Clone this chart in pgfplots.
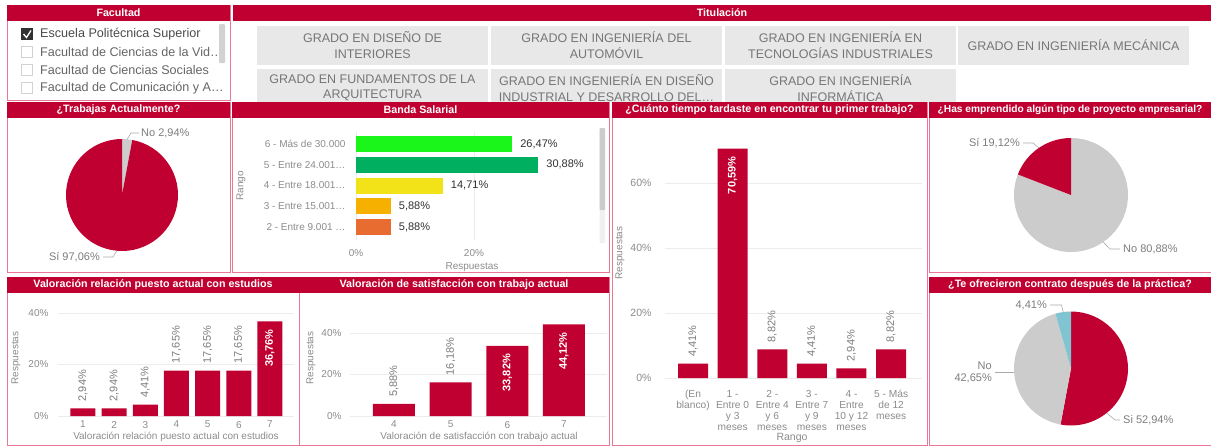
\documentclass[border=0pt]{standalone}
\usepackage{fontspec}
\setmainfont{Liberation Sans}
\usepackage{pgfplots}
\pgfplotsset{compat=1.18}
\definecolor{brand}{RGB}{192,0,48}
\definecolor{pborder}{RGB}{232,120,150}
\definecolor{btn}{RGB}{232,232,232}
\definecolor{btntext}{RGB}{118,118,118}
\definecolor{ltext}{RGB}{125,125,125}
\definecolor{tick}{RGB}{140,140,140}
\definecolor{gridc}{RGB}{236,236,236}
\definecolor{piegray}{RGB}{204,204,204}
\definecolor{pieteal}{RGB}{128,196,210}
\definecolor{dtext}{RGB}{50,50,50}
\definecolor{lead}{RGB}{170,170,170}
\definecolor{bgreen}{RGB}{26,245,26}
\definecolor{dgreen}{RGB}{0,176,96}
\definecolor{byellow}{RGB}{242,226,24}
\definecolor{borange}{RGB}{245,176,0}
\definecolor{dorange}{RGB}{232,108,48}
\newcommand\fs[1]{\fontsize{#1}{#1}\selectfont}
\newcommand\panelx[6]{%
  \draw[pborder, line width=0.8pt] (#1,#2) rectangle (#3,#4);
  \fill[brand] (#1,#2) rectangle (#3,{#2+16});
  \node[white, font=\bfseries\fs{#6}, inner sep=0] at ({(#1+#3)/2},{#2+8}) {#5};}
\newcommand\panel[5]{\panelx{#1}{#2}{#3}{#4}{#5}{10.7}}
\newcommand\btn[3]{%
  \fill[btn] (#1,#2) rectangle ({#1+231},{#2+39});
  \node[btntext, font=\fontsize{12.5}{15.5}\selectfont, align=center, inner sep=0] at ({#1+115.5},{#2+19}) {#3};}
% pie slice: color, start %, end %, radius (clockwise from 12 o'clock)
\newcommand\pieslice[4]{%
  \fill[#1] (axis cs:0,0) -- (axis cs:{cos(90-3.6*#2)},{sin(90-3.6*#2)})
    arc[start angle={90-3.6*#2}, end angle={90-3.6*#3}, radius=#4] -- cycle;}
\pgfplotsset{
  pbi/.style={scale only axis, anchor=south west, axis line style={draw=none},
    major tick length=0pt, tick style={draw=none}, enlargelimits=false,
    grid style={gridc, line width=0.8pt},
    tick label style={font=\fs{10}, text=tick},
    /pgf/number format/assume math mode=true, clip=false},
  outlab/.style={draw=none, fill=none,
    nodes near coords={\pgfmathprintnumber[fixed,fixed zerofill,precision=2,use comma]{\pgfplotspointmeta}\%},
    every node near coord/.append style={rotate=90, anchor=west, font=\fs{11}, text=ltext, inner xsep=7pt}},
  inlab/.style={draw=none, fill=none,
    nodes near coords={\pgfmathprintnumber[fixed,fixed zerofill,precision=2,use comma]{\pgfplotspointmeta}\%},
    every node near coord/.append style={rotate=90, anchor=east, font=\bfseries\fs{11}, text=white, inner xsep=8pt}},
  hlab/.style={nodes near coords={\pgfmathprintnumber[fixed,fixed zerofill,precision=2,use comma]{\pgfplotspointmeta}\%},
    every node near coord/.append style={anchor=west, font=\fs{11}, text=dtext, inner xsep=8pt}},
  pie/.style={anchor=center, hide axis, scale only axis, xmin=-1,xmax=1,ymin=-1,ymax=1, clip=false},
}
\begin{document}
\begin{tikzpicture}[x=1pt,y=-1pt]
\useasboundingbox (0,0) rectangle (1211,445);
\fill[white] (0,0) rectangle (1211,445);

% ---------- Facultad slicer
\panel{7}{5}{230}{100}{Facultad}
\fill[dtext] (21,28) rectangle (33,40);
\draw[white, line width=1.3pt] (23.5,34) -- (26.5,37.5) -- (31,30.5);
\foreach \yy in {52,70,88} {\draw[gray!35, line width=0.6pt] (21.5,{\yy-5.5}) rectangle (32.5,{\yy+5.5});}
\node[anchor=west, font=\fs{12.6}, text=black!70, inner sep=0] at (40,34) {Escuela Politécnica Superior};
\node[anchor=west, font=\fs{12.6}, text=black!60, inner sep=0] at (40,52) {Facultad de Ciencias de la Vid…};
\node[anchor=west, font=\fs{12.6}, text=black!60, inner sep=0] at (40,70) {Facultad de Ciencias Sociales};
\node[anchor=west, font=\fs{12.6}, text=black!60, inner sep=0] at (40,88) {Facultad de Comunicación y A…};
\fill[gray!35, rounded corners=1pt] (219,24) rectangle (225,63);

% ---------- Titulación slicer
\fill[brand] (233,5) rectangle (1211,21);
\node[white, font=\bfseries\fs{10.7}, inner sep=0] at (722,13) {Titulación};
\begin{scope}
\clip (233,22) rectangle (1211,101);
\btn{257}{26}{GRADO EN DISEÑO DE\\INTERIORES}
\btn{491}{26}{GRADO EN INGENIERÍA DEL\\AUTOMÓVIL}
\btn{725}{26}{GRADO EN INGENIERÍA EN\\TECNOLOGÍAS INDUSTRIALES}
\btn{958}{26}{GRADO EN INGENIERÍA MECÁNICA}
\btn{257}{69}{GRADO EN FUNDAMENTOS DE LA\\ARQUITECTURA}
\btn{491}{69}{GRADO EN INGENIERÍA EN DISEÑO\\INDUSTRIAL Y DESARROLLO DEL…}
\btn{725}{69}{GRADO EN INGENIERÍA\\INFORMÁTICA}
\end{scope}

% ---------- panels
\panel{7}{102}{230}{272}{¿Trabajas Actualmente?}
\panel{232}{102}{609}{272}{Banda Salarial}
\panel{612}{102}{927}{445}{¿Cuánto tiempo tardaste en encontrar tu primer trabajo?}
\panelx{929}{102}{1211}{272}{¿Has emprendido algún tipo de proyecto empresarial?}{10.2}
\panel{7}{277}{299}{445}{Valoración relación puesto actual con estudios}
\panel{299}{277}{609}{445}{Valoración de satisfacción con trabajo actual}
\panel{929}{277}{1211}{445}{¿Te ofrecieron contrato después de la práctica?}

% ---------- Pie: Trabajas
\begin{axis}[pie, at={(122pt,-195pt)}, width=112pt, height=112pt]
\pieslice{piegray}{0}{2.94}{56pt}
\pieslice{brand}{2.94}{100}{56pt}
\end{axis}
\draw[lead, line width=0.6pt] (127.2,139.2) -- (131,133) -- (139,133);
\node[anchor=west, font=\fs{11}, text=ltext, inner sep=0] at (141,133) {No 2,94\%};
\draw[lead, line width=0.6pt] (116.8,250.8) -- (113,257) -- (103,257);
\node[anchor=east, font=\fs{11}, text=ltext, inner sep=0] at (100,257) {Sí 97,06\%};

% ---------- Pie: Emprendido
\begin{axis}[pie, at={(1071pt,-195pt)}, width=114pt, height=114pt]
\pieslice{piegray}{0}{80.88}{57pt}
\pieslice{brand}{80.88}{100}{57pt}
\end{axis}
\draw[lead, line width=0.6pt] (1038.8,148) -- (1033,143) -- (1023,143);
\node[anchor=east, font=\fs{11}, text=ltext, inner sep=0] at (1020,143) {Sí 19,12\%};
\draw[lead, line width=0.6pt] (1103.2,242) -- (1110,249) -- (1120,249);
\node[anchor=west, font=\fs{11}, text=ltext, inner sep=0] at (1123,249) {No 80,88\%};

% ---------- Pie: Contrato
\begin{axis}[pie, at={(1071pt,-368.5pt)}, width=114pt, height=114pt]
\pieslice{brand}{0}{52.94}{57pt}
\pieslice{piegray}{52.94}{95.59}{57pt}
\pieslice{pieteal}{95.59}{100}{57pt}
\end{axis}
\draw[lead, line width=0.6pt] (1063.2,312) -- (1061.5,305) -- (1050,305);
\node[anchor=east, font=\fs{11}, text=ltext, inner sep=0] at (1047,305) {4,41\%};
\draw[lead, line width=0.6pt] (1014,372) -- (995,372);
\node[anchor=east, font=\fontsize{11}{12}\selectfont, text=ltext, align=right, inner sep=0] at (992,372) {No\\42,65\%};
\draw[lead, line width=0.6pt] (1106.7,413) -- (1115,420) -- (1120,420);
\node[anchor=west, font=\fs{11}, text=ltext, inner sep=0] at (1123,420) {Si 52,94\%};

% ---------- Banda Salarial (horizontal bars)
\begin{axis}[pbi, at={(356pt,-239.5pt)}, width=236pt, height=108pt,
  xbar, bar width=16pt, bar shift=0pt,
  xmin=0, xmax=40, ymin=-0.6, ymax=4.6, y dir=reverse,
  ytick={0,1,2,3,4},
  yticklabels={{6 - Más de 30.000}, {5 - Entre 24.001…}, {4 - Entre 18.001…}, {3 - Entre 15.001…}, {2 - Entre 9.001 …}},
  xtick={0,20}, xticklabels={0\%,20\%}, xmajorgrids,
  yticklabel style={font=\fs{10}, xshift=-7pt},
  xticklabel style={yshift=-6pt}]
\addplot[fill=bgreen, draw=none, hlab] coordinates {(26.47,0)};
\addplot[fill=dgreen, draw=none, hlab] coordinates {(30.88,1)};
\addplot[fill=byellow, draw=none, hlab] coordinates {(14.71,2)};
\addplot[fill=borange, draw=none, hlab] coordinates {(5.88,3)};
\addplot[fill=dorange, draw=none, hlab] coordinates {(5.88,4)};
\end{axis}
\node[rotate=90, font=\fs{10}, text=tick] at (241,186) {Rango};
\node[font=\fs{10}, text=tick] at (472,267) {Respuestas};
\fill[gray!12, rounded corners=1pt] (599.5,128) rectangle (605,243);
\fill[gray!40, rounded corners=1pt] (599.5,128) rectangle (605,210);

% ---------- Valoración relación
\begin{axis}[pbi, at={(58pt,-416pt)}, width=236pt, height=103pt,
  ybar, bar width=25pt, bar shift=0pt,
  xmin=0.2, xmax=7.77, ymin=0, ymax=40, ymajorgrids,
  ytick={0,20,40}, yticklabels={0\%,20\%,40\%},
  xtick={1,2,3,4,5,6,7},
  yticklabel style={xshift=-6pt}, xticklabel style={font=\fs{10}, yshift=-1.5pt}]
\addplot[fill=brand, draw=none] coordinates {(1,2.94) (2,2.94) (3,4.41) (4,17.65) (5,17.65) (6,17.65) (7,36.76)};
\addplot[outlab] coordinates {(1,2.94) (2,2.94) (3,4.41) (4,17.65) (5,17.65) (6,17.65)};
\addplot[inlab] coordinates {(7,36.76)};
\end{axis}
\node[rotate=90, font=\fs{10}, text=tick] at (16,358) {Respuestas};
\node[font=\fs{10}, text=tick] at (176,437) {Valoración relación puesto actual con estudios};

% ---------- Valoración satisfacción
\begin{axis}[pbi, at={(350pt,-416pt)}, width=257pt, height=95.5pt,
  ybar, bar width=42pt, bar shift=0pt,
  xmin=3.224, xmax=7.76, ymin=0, ymax=46, ymajorgrids,
  ytick={0,20,40}, yticklabels={0\%,20\%,40\%},
  xtick={4,5,6,7},
  yticklabel style={xshift=-5pt}, xticklabel style={font=\fs{10}, yshift=-1.5pt}]
\addplot[fill=brand, draw=none] coordinates {(4,5.88) (5,16.18) (6,33.82) (7,44.12)};
\addplot[outlab] coordinates {(4,5.88) (5,16.18)};
\addplot[inlab] coordinates {(6,33.82) (7,44.12)};
\end{axis}
\node[rotate=90, font=\fs{10}, text=tick] at (311,358) {Respuestas};
\node[font=\fs{10}, text=tick] at (479,437) {Valoración de satisfacción con trabajo actual};

% ---------- Tiempo primer trabajo
\begin{axis}[pbi, at={(665pt,-378pt)}, width=257pt, height=234pt,
  ybar, bar width=30pt, bar shift=0pt,
  xmin=-0.707, xmax=5.78, ymin=0, ymax=72, ymajorgrids,
  ytick={0,20,40,60}, yticklabels={0\%,20\%,40\%,60\%},
  xtick={0,1,2,3,4,5},
  xticklabels={{(En\\blanco)},{1 -\\Entre 0\\y 3\\meses},{2 -\\Entre 4\\y 6\\meses},{3 -\\Entre 7\\y 9\\meses},{4 -\\Entre\\10 y 12\\meses},{5 - Más\\de 12\\meses}},
  yticklabel style={xshift=-10pt, font=\fs{10.5}},
  xticklabel style={align=center, font=\fontsize{10.2}{11}\selectfont, yshift=-8.5pt}]
\addplot[fill=brand, draw=none] coordinates {(0,4.41) (1,70.59) (2,8.82) (3,4.41) (4,2.94) (5,8.82)};
\addplot[outlab] coordinates {(0,4.41) (2,8.82) (3,4.41) (4,2.94) (5,8.82)};
\addplot[inlab] coordinates {(1,70.59)};
\end{axis}
\node[rotate=90, font=\fs{10}, text=tick] at (620,253) {Respuestas};
\node[font=\fs{10.5}, text=tick] at (792,438) {Rango};
\end{tikzpicture}
\end{document}
